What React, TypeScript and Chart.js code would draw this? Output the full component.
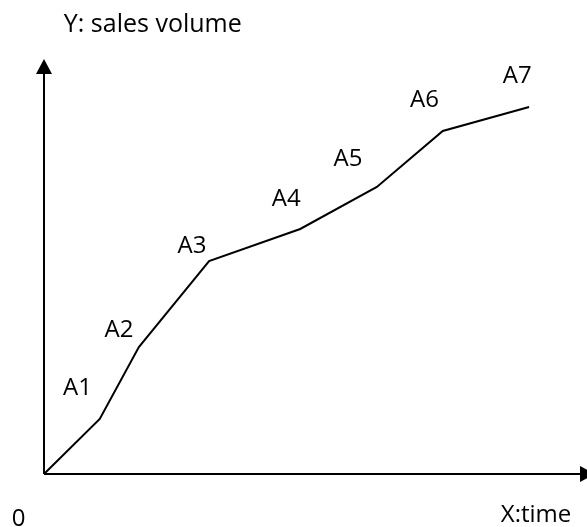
import React, { useEffect, useRef } from "react";
import { Chart, registerables } from "chart.js";

Chart.register(...registerables);

// Series (data units: time 0..100, sales 0..100)
const timeValues = [0, 10.4, 17.7, 30.8, 47.8, 62.1, 74.4, 90.5];
const salesValues = [0, 13.75, 31.75, 53.25, 61.25, 71.75, 85.75, 91.75];

// Point labels and their anchors (data units, text baseline centre)
const pointLabels = ["A1", "A2", "A3", "A4", "A5", "A6", "A7"];
const labelTime = [6.25, 14.0, 27.6, 45.2, 56.7, 71.0, 88.3];
const labelSales = [19.75, 34.25, 55.25, 67, 77, 91.75, 97.75];

// Axis captions
const axisTexts = ["0", "X:time", "Y: sales volume"];
const axisTextTime = [-4.76, 91.8, 20.3];
const axisTextSales = [-13, -12, 110.5];

const FONT = '24px "Open Sans", sans-serif';
const TITLE_FONT = '25px "Open Sans", sans-serif';

const annotPlugin = {
  id: "annot",
  afterDatasetsDraw(chart: any) {
    const ctx = chart.ctx;
    const xs = chart.scales.x;
    const ys = chart.scales.y;
    const ox = xs.getPixelForValue(0);
    const oy = ys.getPixelForValue(0);
    const xEnd = xs.getPixelForValue(100);
    const yEnd = ys.getPixelForValue(100);
    ctx.save();
    ctx.strokeStyle = "#000";
    ctx.fillStyle = "#000";
    ctx.lineWidth = 2;
    // axes
    ctx.beginPath();
    ctx.moveTo(ox, oy);
    ctx.lineTo(ox, yEnd);
    ctx.moveTo(ox, oy);
    ctx.lineTo(xEnd, oy);
    ctx.stroke();
    // arrows
    ctx.beginPath();
    ctx.moveTo(ox - 8, yEnd);
    ctx.lineTo(ox + 8, yEnd);
    ctx.lineTo(ox, yEnd - 15);
    ctx.closePath();
    ctx.fill();
    ctx.beginPath();
    ctx.moveTo(xEnd, oy - 8);
    ctx.lineTo(xEnd, oy + 8);
    ctx.lineTo(xEnd + 15, oy);
    ctx.closePath();
    ctx.fill();
    // texts
    ctx.textAlign = "center";
    ctx.textBaseline = "alphabetic";
    ctx.font = FONT;
    pointLabels.forEach((t, i) => {
      ctx.fillText(t, xs.getPixelForValue(labelTime[i]), ys.getPixelForValue(labelSales[i]));
    });
    axisTexts.forEach((t, i) => {
      ctx.font = i === 2 ? TITLE_FONT : FONT;
      ctx.fillText(t, xs.getPixelForValue(axisTextTime[i]), ys.getPixelForValue(axisTextSales[i]));
    });
    ctx.restore();
  },
};

export default function App() {
  const ref = useRef<HTMLCanvasElement>(null);
  useEffect(() => {
    if (!ref.current) return;
    const chart = new Chart(ref.current, {
      type: "line",
      data: {
        datasets: [
          {
            data: timeValues.map((t, i) => ({ x: t, y: salesValues[i] })),
            borderColor: "#000",
            borderWidth: 2,
            pointRadius: 0,
            tension: 0,
            fill: false,
            clip: false as any,
          },
        ],
      },
      options: {
        animation: false,
        responsive: true,
        maintainAspectRatio: false,
        layout: { padding: { left: 44, right: 7, top: 74, bottom: 53 } },
        plugins: { legend: { display: false }, tooltip: { enabled: false } },
        scales: {
          x: { type: "linear", min: 0, max: 100, display: false },
          y: { type: "linear", min: 0, max: 100, display: false },
        },
      },
      plugins: [annotPlugin],
    });
    return () => chart.destroy();
  }, []);
  return (
    <div style={{ position: "absolute", left: 0, top: 0, width: 587, height: 527, background: "#fff" }}>
      <canvas ref={ref} />
    </div>
  );
}
